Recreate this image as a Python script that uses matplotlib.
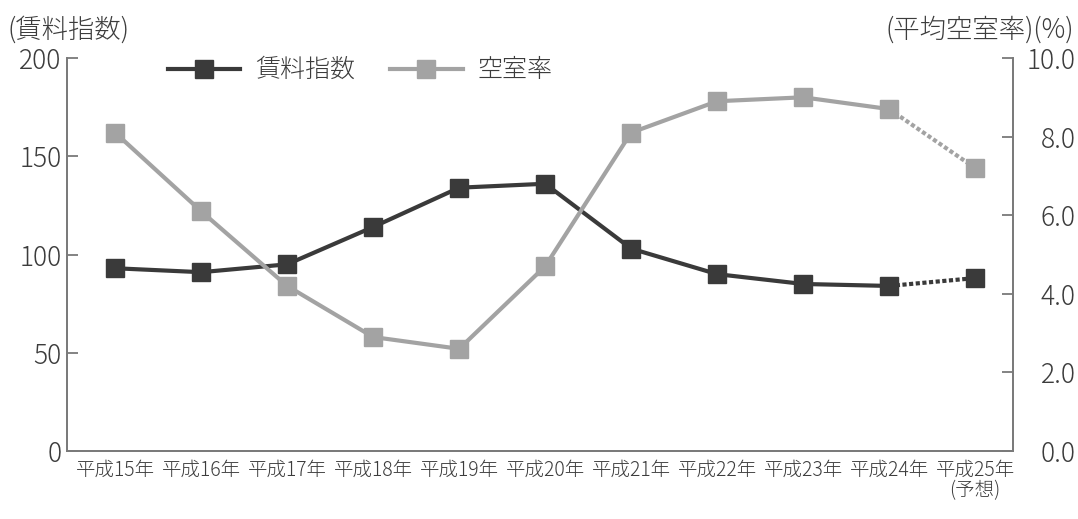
import matplotlib.pyplot as plt

plt.rcParams['font.family'] = ['Noto Sans CJK JP', 'DejaVu Sans']
plt.rcParams['font.weight'] = 'light'

# データ
years = ['平成15年', '平成16年', '平成17年', '平成18年', '平成19年', '平成20年',
         '平成21年', '平成22年', '平成23年', '平成24年', '平成25年\n(予想)']
rent_index = [93, 91, 95, 114, 134, 136, 103, 90, 85, 84, 88]
vacancy = [8.1, 6.1, 4.2, 2.9, 2.6, 4.7, 8.1, 8.9, 9.0, 8.7, 7.2]

dark = '#3a3a3a'
light = '#a3a3a3'
text_col = '#3c3c3c'
spine_col = '#7a7a7a'

fig = plt.figure(figsize=(10.78, 5.19), dpi=100)
ax = fig.add_axes([67/1078, 1 - 451/519, (1013 - 67)/1078, (451 - 58)/519])
ax2 = ax.twinx()

x = list(range(len(years)))
n = len(years) - 1  # 最後の点は予想 -> 点線

# 賃料指数 (左軸)
ax.plot(x[:n], rent_index[:n], color=dark, lw=3, marker='s', ms=13, label='賃料指数')
ax.plot(x[n-1:], rent_index[n-1:], color=dark, lw=3, ls=(0, (1, 0.6)))
ax.plot(x[n], rent_index[n], color=dark, marker='s', ms=13)

# 空室率 (右軸)
ax2.plot(x[:n], vacancy[:n], color=light, lw=3, marker='s', ms=13, label='空室率')
ax2.plot(x[n-1:], vacancy[n-1:], color=light, lw=3, ls=(0, (1, 0.6)))
ax2.plot(x[n], vacancy[n], color=light, marker='s', ms=13)

ax.set_xlim(-0.56, 10.44)
ax.set_ylim(0, 200)
ax2.set_ylim(0, 10)
ax.set_yticks([0, 50, 100, 150, 200])
ax2.set_yticks([0, 2, 4, 6, 8, 10])
ax2.set_yticklabels(['%.1f' % v for v in [0, 2, 4, 6, 8, 10]])
ax.set_xticks(x)
ax.set_xticklabels(years, fontsize=14, color=text_col, linespacing=1.0)

for a in (ax, ax2):
    a.spines['top'].set_visible(False)
    for s in ('left', 'right', 'bottom'):
        a.spines[s].set_color(spine_col)
        a.spines[s].set_linewidth(1.3)
ax.tick_params(axis='x', length=0, pad=6)
ax.tick_params(axis='y', direction='in', length=8, width=1.3, color=spine_col,
               labelsize=19, labelcolor=text_col, pad=4)
ax2.tick_params(axis='y', direction='in', length=8, width=1.3, color=spine_col,
                labelsize=19, labelcolor=text_col, pad=45)
for lbl in ax2.get_yticklabels():
    lbl.set_horizontalalignment('right')

fig.text(8/1078, 1 - 30/519, '(賃料指数)', fontsize=19, color=text_col, va='center')
fig.text(1074/1078, 1 - 30/519, '(平均空室率)(%)', fontsize=19, color=text_col,
         va='center', ha='right')

h1, l1 = ax.get_legend_handles_labels()
h2, l2 = ax2.get_legend_handles_labels()
fig.legend(h1 + h2, l1 + l2, loc='center left', bbox_to_anchor=(145/1078, 1 - 70/519),
           ncol=2, frameon=False, fontsize=18, handlelength=2.9, columnspacing=1.4,
           handletextpad=0.6, labelcolor=text_col)

fig.savefig('out.png', dpi=100)
